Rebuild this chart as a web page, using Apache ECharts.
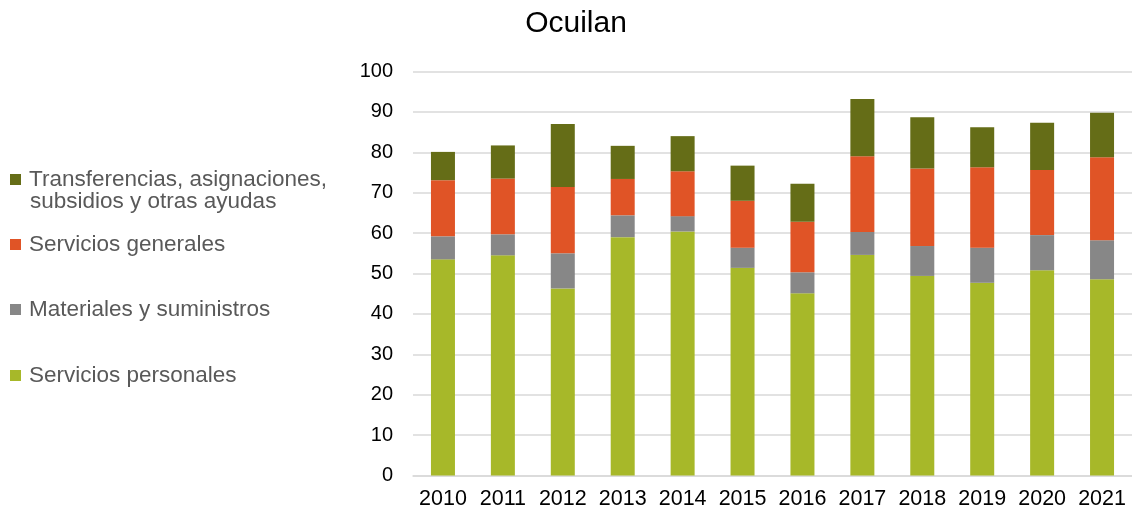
<!DOCTYPE html>
<html>
<head>
<meta charset="utf-8">
<script src="https://cdn.jsdelivr.net/npm/echarts@6/dist/echarts.min.js"></script>
<style>
  html, body { margin: 0; padding: 0; background: #fff; }
  #chart { width: 1132px; height: 512px; }
</style>
</head>
<body>
<div id="chart"></div>
<script>
// datos (millones)
var years = ['2010','2011','2012','2013','2014','2015','2016','2017','2018','2019','2020','2021'];
var personales = [53.5, 54.5, 46.3, 59.0, 60.4, 51.4, 45.1, 54.6, 49.4, 47.7, 50.8, 48.6];
var materiales = [5.7, 5.2, 8.7, 5.4, 3.8, 5.0, 5.2, 5.7, 7.4, 8.7, 8.7, 9.6];
var generales = [13.9, 13.8, 16.4, 9.0, 11.1, 11.6, 12.5, 18.7, 19.2, 19.9, 16.1, 20.6];
var transferencias = [7.0, 8.2, 15.6, 8.2, 8.7, 8.7, 9.4, 14.2, 12.7, 9.9, 11.7, 11.0];

var names = ['Servicios personales', 'Materiales y suministros', 'Servicios generales',
  'Transferencias, asignaciones, subsidios y otras ayudas'];
var colors = ['#A7B829', '#878787', '#E05426', '#656D17'];
var font = 'Liberation Sans, Arial, sans-serif';
var legendText = { fontFamily: font, fontSize: 22.5, color: '#595959', padding: [0, 0, 0, 3] };

function serie(i, data) {
  return {
    name: names[i],
    type: 'bar',
    stack: 'total',
    barWidth: 24,
    data: data,
    itemStyle: { color: colors[i] }
  };
}

function legenda(i, top, label) {
  return {
    data: [names[i]],
    left: 5,
    top: top,
    icon: 'rect',
    itemWidth: 11,
    itemHeight: 11,
    itemGap: 4,
    formatter: function (n) { return label || n; },
    textStyle: legendText
  };
}

var chart = echarts.init(document.getElementById('chart'));
chart.setOption({
  animation: false,
  title: {
    text: 'Ocuilan',
    left: 571,
    textAlign: 'center',
    top: 4,
    textStyle: { fontFamily: font, fontSize: 30, fontWeight: 'normal', color: '#000' }
  },
  legend: [
    legenda(3, 163, 'Transferencias, asignaciones,'),
    legenda(2, 228),
    legenda(1, 293),
    legenda(0, 359)
  ],
  graphic: [{
    type: 'text',
    left: 30,
    top: 190,
    style: { text: 'subsidios y otras ayudas', font: '22.5px ' + font, fill: '#595959' }
  }],
  grid: { left: 413, right: 0, top: 71.5, bottom: 36.5 },
  xAxis: {
    type: 'category',
    data: years,
    axisTick: { show: false },
    axisLine: { lineStyle: { color: '#d9d9d9', width: 1.5 } },
    axisLabel: { interval: 0, fontFamily: font, fontSize: 21.5, color: '#000', margin: 13 }
  },
  yAxis: {
    type: 'value',
    min: 0,
    max: 100,
    interval: 10,
    axisLabel: { fontFamily: font, fontSize: 20, color: '#000', margin: 20 },
    splitLine: { lineStyle: { color: '#d9d9d9', width: 1.5 } }
  },
  series: [
    serie(0, personales),
    serie(1, materiales),
    serie(2, generales),
    serie(3, transferencias)
  ]
});
</script>
</body>
</html>
